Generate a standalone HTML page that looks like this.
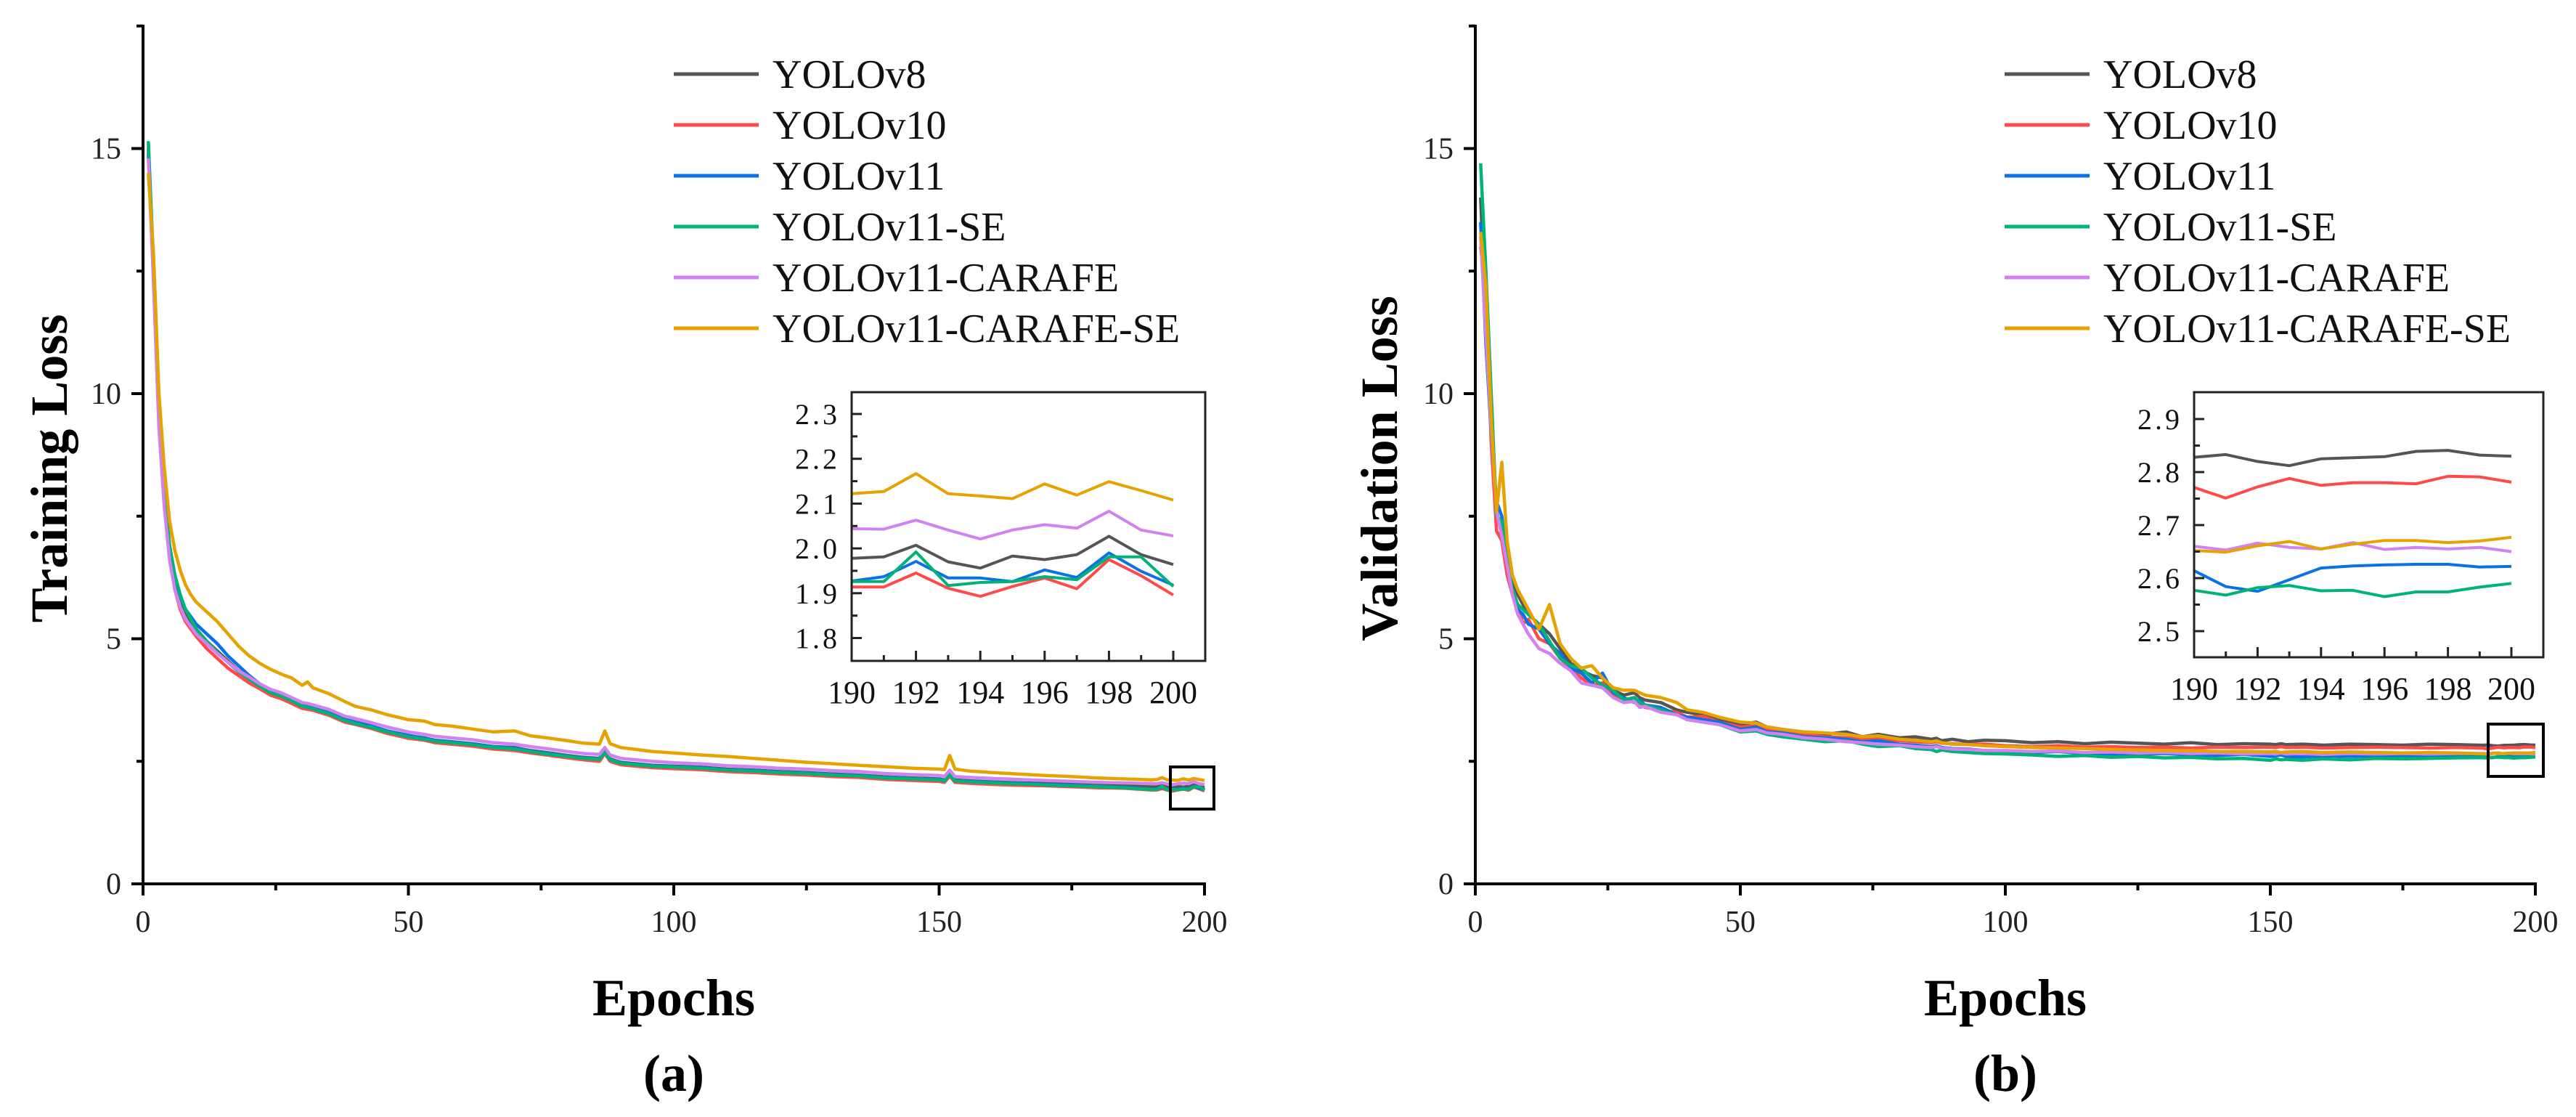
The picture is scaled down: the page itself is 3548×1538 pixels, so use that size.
<!DOCTYPE html>
<html><head><meta charset="utf-8">
<style>
html,body{margin:0;padding:0;background:#fff;}
svg{display:block;font-family:"Liberation Serif",serif;}
</style></head>
<body>
<svg id="chart" width="3548" height="1538" viewBox="0 0 3548 1538" xmlns="http://www.w3.org/2000/svg">
<rect width="3548" height="1538" fill="#fff"/>
</svg>
<script>
const seriesNames = ["YOLOv8","YOLOv10","YOLOv11","YOLOv11-SE","YOLOv11-CARAFE","YOLOv11-CARAFE-SE"];
const seriesColors = ["#555555","#ff4a4a","#0a72e6","#00b377","#d282f0","#e6a300"];
const mainEpochs = [1,2,3,4,5,6,7,8,9,10,12,14,16,18,20,22,24,26,28,30,31,32,35,38,40,43,46,50,53,55,58,62,66,70,73,76,80,83,86,87,88,90,93,96,100,105,110,115,120,125,130,135,140,145,150,151,152,153,156,160,165,170,175,180,185];
const insetEpochs = [190,191,192,193,194,195,196,197,198,199,200];
const mainXTicks = [0,50,100,150,200];
const mainYTicks = [0,5,10,15];
const insetXTicks = [190,192,194,196,198,200];
const insetYTicksA = [1.8,1.9,2.0,2.1,2.2,2.3];
const insetYTicksB = [2.5,2.6,2.7,2.8,2.9];

// Training loss (a)
const trainV8 = [15.0,12.5,9.6,8.0,6.9,6.2,5.8,5.55,5.35,5.2,4.95,4.75,4.55,4.35,4.2,4.05,3.92,3.85,3.75,3.65,3.62,3.6,3.5,3.35,3.3,3.22,3.12,3.02,2.98,2.93,2.9,2.86,2.8,2.78,2.72,2.68,2.62,2.58,2.56,2.72,2.55,2.48,2.45,2.42,2.4,2.38,2.34,2.32,2.29,2.27,2.24,2.22,2.18,2.16,2.14,2.12,2.25,2.12,2.1,2.08,2.06,2.05,2.03,2.01,2.0];
const trainV10 = [15.1,12.3,9.4,7.8,6.7,6.0,5.6,5.35,5.2,5.05,4.8,4.6,4.4,4.25,4.1,3.98,3.85,3.78,3.68,3.58,3.56,3.54,3.44,3.3,3.25,3.17,3.07,2.97,2.93,2.88,2.85,2.81,2.75,2.72,2.67,2.63,2.57,2.53,2.5,2.66,2.5,2.43,2.4,2.37,2.35,2.33,2.29,2.27,2.24,2.22,2.19,2.17,2.13,2.11,2.09,2.07,2.2,2.07,2.05,2.03,2.01,2.0,1.98,1.96,1.95];
const trainV11 = [14.9,12.4,9.5,7.9,6.8,6.2,5.85,5.6,5.45,5.3,5.1,4.9,4.65,4.45,4.25,4.08,3.95,3.86,3.76,3.64,3.62,3.6,3.5,3.36,3.3,3.22,3.12,3.03,2.97,2.93,2.9,2.86,2.8,2.77,2.71,2.67,2.61,2.57,2.55,2.7,2.54,2.47,2.44,2.41,2.39,2.37,2.33,2.31,2.28,2.26,2.23,2.21,2.17,2.15,2.13,2.11,2.24,2.11,2.09,2.07,2.05,2.03,2.01,1.99,1.97];
const trainSE = [15.15,12.6,9.7,8.0,6.9,6.3,5.9,5.6,5.4,5.2,4.95,4.72,4.52,4.33,4.18,4.03,3.9,3.83,3.73,3.62,3.6,3.57,3.47,3.33,3.27,3.19,3.1,3.0,2.95,2.91,2.88,2.84,2.78,2.75,2.7,2.65,2.6,2.56,2.54,2.68,2.53,2.46,2.43,2.4,2.38,2.36,2.32,2.3,2.27,2.25,2.22,2.2,2.16,2.14,2.12,2.1,2.22,2.1,2.08,2.06,2.04,2.02,2.0,1.98,1.96];
const trainCARAFE = [14.8,12.2,9.3,7.7,6.6,6.0,5.65,5.4,5.25,5.1,4.9,4.7,4.52,4.35,4.22,4.08,3.97,3.9,3.8,3.7,3.68,3.65,3.56,3.42,3.37,3.29,3.2,3.1,3.05,3.01,2.98,2.94,2.88,2.85,2.8,2.76,2.7,2.66,2.64,2.78,2.63,2.56,2.53,2.5,2.47,2.45,2.41,2.39,2.36,2.34,2.31,2.29,2.25,2.23,2.21,2.19,2.32,2.19,2.17,2.15,2.13,2.11,2.09,2.07,2.06];
const trainCARAFESE = [14.5,12.8,10.0,8.5,7.4,6.8,6.4,6.1,5.9,5.75,5.55,5.35,5.1,4.85,4.65,4.5,4.38,4.28,4.2,4.05,4.12,4.0,3.88,3.72,3.62,3.55,3.45,3.35,3.32,3.25,3.22,3.16,3.1,3.12,3.02,2.98,2.92,2.87,2.85,3.12,2.86,2.78,2.74,2.7,2.67,2.63,2.6,2.56,2.52,2.48,2.45,2.42,2.39,2.36,2.34,2.33,2.62,2.34,2.3,2.27,2.24,2.21,2.19,2.16,2.14];
const trainInV8 = [1.978,1.981,2.007,1.970,1.956,1.983,1.975,1.986,2.027,1.986,1.964];
const trainInV10 = [1.914,1.914,1.945,1.911,1.893,1.915,1.934,1.910,1.975,1.939,1.896];
const trainInV11 = [1.927,1.937,1.971,1.934,1.934,1.926,1.952,1.935,1.990,1.949,1.918];
const trainInSE = [1.926,1.926,1.992,1.917,1.924,1.926,1.937,1.930,1.981,1.981,1.915];
const trainInCARAFE = [2.044,2.043,2.063,2.041,2.021,2.041,2.053,2.045,2.083,2.041,2.028];
const trainInCARAFESE = [2.122,2.127,2.167,2.122,2.117,2.111,2.144,2.119,2.149,2.129,2.108];

// Validation loss (b)
const valV8 = [14.0,11.5,9.8,7.6,7.2,6.8,6.2,5.9,5.7,5.5,5.3,5.1,4.8,4.5,4.35,4.25,4.2,3.95,3.85,3.9,3.8,3.75,3.7,3.55,3.5,3.45,3.35,3.25,3.3,3.2,3.15,3.1,3.05,3.1,3.0,3.05,2.98,3.0,2.95,2.97,2.92,2.95,2.9,2.93,2.92,2.88,2.9,2.86,2.89,2.87,2.85,2.88,2.84,2.86,2.85,2.84,2.86,2.84,2.85,2.83,2.85,2.84,2.83,2.85,2.84];
const valV10 = [13.0,12.0,9.0,7.2,7.0,6.3,5.9,5.7,5.3,5.4,5.0,4.9,4.6,4.4,4.2,4.05,4.1,3.85,3.75,3.8,3.7,3.6,3.55,3.5,3.4,3.42,3.3,3.2,3.22,3.15,3.1,3.05,3.0,2.98,2.95,2.96,2.92,2.9,2.88,2.9,2.87,2.86,2.84,2.85,2.82,2.8,2.82,2.79,2.8,2.78,2.79,2.77,2.79,2.78,2.79,2.78,2.8,2.78,2.79,2.77,2.78,2.79,2.78,2.77,2.78];
const valV11 = [13.5,11.0,9.2,7.8,7.5,6.5,6.0,5.6,5.5,5.3,5.2,4.9,4.7,4.4,4.3,4.1,4.3,3.9,3.8,3.7,3.75,3.65,3.6,3.45,3.4,3.35,3.3,3.15,3.2,3.1,3.08,3.0,2.98,2.95,2.9,2.92,2.85,2.83,2.8,2.82,2.78,2.76,2.75,2.72,2.7,2.68,2.7,2.66,2.65,2.64,2.66,2.63,2.62,2.64,2.6,2.61,2.63,2.6,2.59,2.61,2.6,2.62,2.6,2.61,2.62];
const valSE = [14.7,12.5,10.0,7.5,7.4,6.6,6.0,5.7,5.6,5.5,5.3,4.95,4.6,4.45,4.4,4.2,4.05,3.95,3.75,3.8,3.7,3.65,3.55,3.45,3.35,3.3,3.25,3.1,3.12,3.05,3.0,2.95,2.9,2.92,2.85,2.8,2.82,2.76,2.74,2.7,2.73,2.7,2.68,2.66,2.65,2.63,2.6,2.62,2.58,2.6,2.57,2.58,2.55,2.56,2.52,2.55,2.53,2.54,2.52,2.55,2.53,2.56,2.55,2.56,2.57];
const valCARAFE = [13.2,11.2,9.3,7.6,7.1,6.5,5.9,5.5,5.3,5.1,4.8,4.7,4.5,4.35,4.1,4.05,4.0,3.8,3.7,3.72,3.6,3.62,3.5,3.45,3.35,3.3,3.25,3.12,3.15,3.08,3.05,2.98,2.95,2.9,2.88,2.85,2.83,2.8,2.78,2.8,2.77,2.75,2.74,2.72,2.72,2.7,2.71,2.68,2.69,2.67,2.68,2.66,2.67,2.65,2.66,2.65,2.67,2.65,2.66,2.64,2.66,2.65,2.66,2.65,2.66];
const valCARAFESE = [13.3,12.2,9.5,7.6,8.6,7.0,6.3,6.0,5.8,5.6,5.2,5.7,4.9,4.6,4.4,4.45,4.2,4.0,3.95,3.95,3.9,3.85,3.8,3.7,3.55,3.5,3.4,3.3,3.28,3.2,3.15,3.1,3.08,3.05,3.0,3.02,2.95,2.93,2.9,2.92,2.88,2.85,2.84,2.82,2.8,2.78,2.77,2.76,2.74,2.73,2.72,2.72,2.7,2.7,2.69,2.7,2.68,2.69,2.7,2.68,2.69,2.68,2.67,2.68,2.67];
const valInV8 = [2.828,2.833,2.820,2.812,2.825,2.827,2.829,2.839,2.841,2.832,2.830];
const valInV10 = [2.771,2.751,2.772,2.788,2.775,2.780,2.780,2.778,2.792,2.791,2.781];
const valInV11 = [2.614,2.584,2.575,2.597,2.619,2.623,2.625,2.626,2.626,2.621,2.622];
const valInSE = [2.577,2.568,2.582,2.586,2.576,2.577,2.565,2.574,2.574,2.583,2.590];
const valInCARAFE = [2.660,2.653,2.666,2.658,2.655,2.667,2.654,2.658,2.655,2.658,2.650];
const valInCARAFESE = [2.652,2.649,2.661,2.669,2.655,2.664,2.671,2.671,2.667,2.670,2.677];

const NS = "http://www.w3.org/2000/svg";
const svg = document.getElementById("chart");
function mk(tag, attrs, parent) {
  const e = document.createElementNS(NS, tag);
  for (const k in attrs) e.setAttribute(k, attrs[k]);
  (parent || svg).appendChild(e);
  return e;
}

function drawPanel(cfg) {
  const g = mk("g", {});
  
  
  const x = v => cfg.x0 + (v / 200) * (cfg.x1 - cfg.x0);
  const y = v => cfg.y0 - v * cfg.yScale;

  const lines = mk("g", {fill: "none", "stroke-width": 4.5, "stroke-linejoin": "round"}, g);
  
  
  cfg.main.forEach((vals, i) => {
    const allE = mainEpochs.concat(insetEpochs);
    const allV = vals.concat(cfg.inset[i]);
    const d = allE.map((e, j) => (j ? "L" : "M") + x(e).toFixed(1) + " " + y(allV[j]).toFixed(1)).join(" ");
    const p = mk("path", {d: d, stroke: seriesColors[i]}, lines);
    
    
  });

  const ax = mk("g", {stroke: "#000", "stroke-width": 4}, g);
  
  
  mk("line", {x1: cfg.x0, y1: cfg.y0 + 2, x2: cfg.x0, y2: cfg.yTop}, ax);
  mk("line", {x1: cfg.x0 - 2, y1: cfg.y0, x2: cfg.x1 + 2, y2: cfg.y0}, ax);
  for (let v = 0; v <= 200; v += 25) {
    const len = v % 50 === 0 ? 16 : 9;
    mk("line", {x1: x(v), y1: cfg.y0, x2: x(v), y2: cfg.y0 + len}, ax);
  }
  for (let v = 0; v <= 17.5; v += 2.5) {
    const len = v % 5 === 0 ? 16 : 9;
    mk("line", {x1: cfg.x0, y1: y(v), x2: cfg.x0 - len, y2: y(v)}, ax);
  }
  mainXTicks.forEach(v => {
    const t = mk("text", {x: x(v), y: cfg.y0 + 66, "font-size": 42, "text-anchor": "middle", fill: "#222"}, g);
    t.textContent = v;
    
    
  });
  mainYTicks.forEach(v => {
    const t = mk("text", {x: cfg.x0 - 30, y: y(v) + 14, "font-size": 42, "text-anchor": "end", fill: "#222"}, g);
    t.textContent = v;
    
    
  });

  const yt = mk("text", {x: 0, y: 0, "font-size": 72, "font-weight": "bold", "text-anchor": "middle", transform: "translate(" + cfg.ytX + ",645) rotate(-90)"}, g);
  yt.textContent = cfg.yTitle;
  
  
  const cx = (cfg.x0 + cfg.x1) / 2;
  const xt = mk("text", {x: cx, y: 1398, "font-size": 72, "font-weight": "bold", "text-anchor": "middle"}, g);
  xt.textContent = "Epochs";
  
  
  const lab = mk("text", {x: cx, y: 1502, "font-size": 72, "font-weight": "bold", "text-anchor": "middle"}, g);
  lab.textContent = cfg.label;
  
  

  const lg = mk("g", {}, g);
  
  
  seriesNames.forEach((n, i) => {
    const ly = 102 + i * 70;
    const e = mk("g", {}, lg);
    
    
    mk("line", {x1: cfg.legX, y1: ly, x2: cfg.legX + 117, y2: ly, stroke: seriesColors[i], "stroke-width": 5}, e);
    const t = mk("text", {x: cfg.legX + 136, y: ly + 19, "font-size": 56, fill: "#111"}, e);
    t.textContent = n;
  });

  const zb = mk("rect", {x: cfg.zb[0], y: cfg.zb[1], width: cfg.zb[2], height: cfg.zb[3], fill: "none", stroke: "#000", "stroke-width": 4}, g);
  
  

  const ins = cfg.ins;
  const ig = mk("g", {}, g);
  
  
  const ix = v => ins.left + (v - 190) * ins.px;
  const iy = v => ins.yRef - (v - ins.vRef) * ins.py;
  const il = mk("g", {fill: "none", "stroke-width": 4, "stroke-linejoin": "round"}, ig);
  cfg.inset.forEach((vals, i) => {
    const d = insetEpochs.map((e, j) => (j ? "L" : "M") + ix(e).toFixed(1) + " " + iy(vals[j]).toFixed(1)).join(" ");
    const p = mk("path", {d: d, stroke: seriesColors[i]}, il);
    
    
  });
  const ia = mk("g", {stroke: "#222", "stroke-width": 3}, ig);
  mk("rect", {x: ins.left, y: ins.top, width: ins.right - ins.left, height: ins.bottom - ins.top, fill: "none"}, ia);
  for (let e = 190; e <= 200; e++) {
    const len = e % 2 === 0 ? 14 : 8;
    mk("line", {x1: ix(e), y1: ins.bottom, x2: ix(e), y2: ins.bottom - len}, ia);
  }
  const yt0 = ins.yTicks[0];
  for (let k = -1; k <= ins.yTicks.length * 2; k++) {
    const v = yt0 + k * 0.05;
    const py = iy(v);
    if (py < ins.top + 3 || py > ins.bottom - 3) continue;
    const len = k % 2 === 0 ? 14 : 8;
    mk("line", {x1: ins.left, y1: py, x2: ins.left + len, y2: py}, ia);
  }
  insetXTicks.forEach(v => {
    const t = mk("text", {x: ix(v), y: ins.bottom + 58, "font-size": 44, "text-anchor": "middle", fill: "#111"}, ig);
    t.textContent = v;
    
    
  });
  ins.yTicks.forEach(v => {
    const t = mk("text", {x: ins.left - 16, y: iy(v) + 14, "font-size": 40, "text-anchor": "end", fill: "#111", "letter-spacing": 4}, ig);
    t.textContent = v.toFixed(1);
    
    
  });
}

drawPanel({
  id: "training", x0: 197, x1: 1659, y0: 1217, yScale: 67.5, yTop: 34,
  yTitle: "Training Loss", ytX: 92, label: "(a)", legX: 928,
  main: [trainV8, trainV10, trainV11, trainSE, trainCARAFE, trainCARAFESE],
  inset: [trainInV8, trainInV10, trainInV11, trainInSE, trainInCARAFE, trainInCARAFESE],
  zb: [1612, 1056, 60, 58],
  ins: {left: 1173, right: 1660, top: 540, bottom: 910, px: 44.3, yRef: 570, vRef: 2.3, py: 617, yTicks: insetYTicksA}
});
drawPanel({
  id: "validation", x0: 2032, x1: 3492, y0: 1217, yScale: 67.5, yTop: 34,
  yTitle: "Validation Loss", ytX: 1924, label: "(b)", legX: 2761,
  main: [valV8, valV10, valV11, valSE, valCARAFE, valCARAFESE],
  inset: [valInV8, valInV10, valInV11, valInSE, valInCARAFE, valInCARAFESE],
  zb: [3427, 997, 76, 72],
  ins: {left: 3022, right: 3503, top: 540, bottom: 905, px: 43.7, yRef: 577, vRef: 2.9, py: 730, yTicks: insetYTicksB}
});
</script>
</body></html>
